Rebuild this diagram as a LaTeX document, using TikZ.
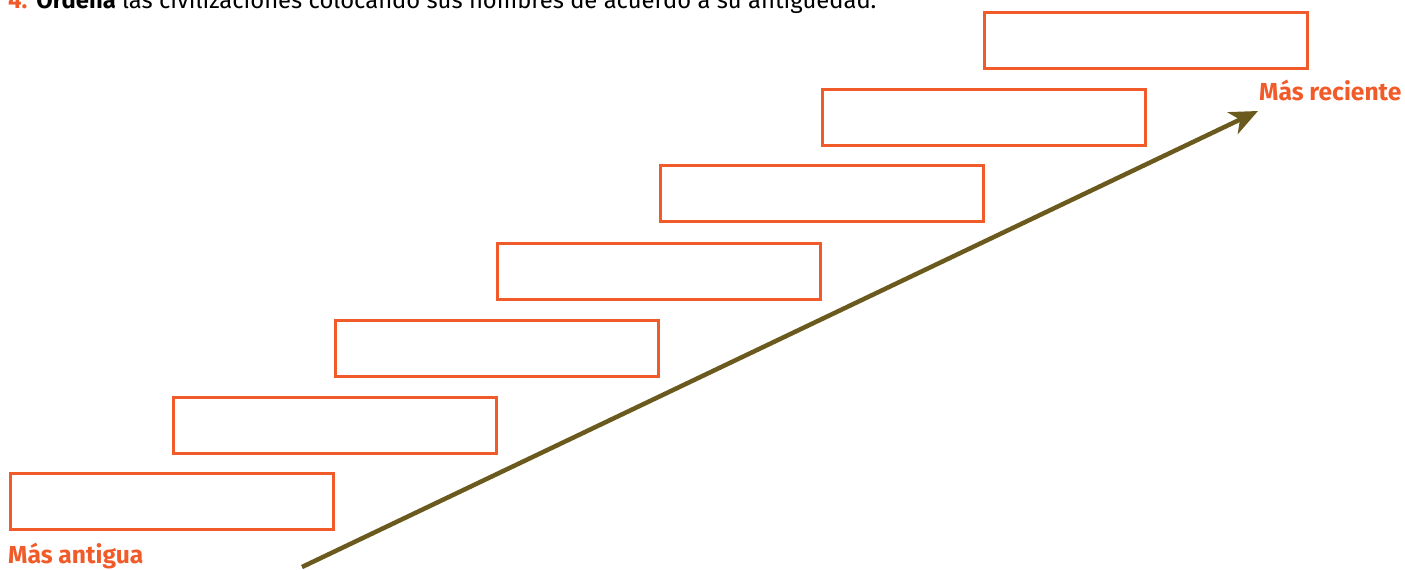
\documentclass[tikz,border=0pt]{standalone}
\usepackage{fontspec}
\setmainfont{Fira Sans}
\usetikzlibrary{arrows.meta}
\definecolor{orng}{HTML}{F15A29}
\definecolor{olive}{HTML}{6B5A1E}
\begin{document}
\begin{tikzpicture}[x=1pt,y=-1pt,
  slot/.style={draw=orng,line width=2.6pt,minimum width=323pt,minimum height=56pt,inner sep=0pt,anchor=north west},
  lbl/.style={text=orng,font=\fontsize{24.6}{26}\selectfont\bfseries,inner sep=0pt,anchor=base west}]
\useasboundingbox (0,0) rectangle (1405,570);
\node[anchor=base west,inner sep=0pt,font=\fontsize{23.8}{26}\selectfont] (title) at (8,8.5)
  {\textcolor{orng}{\textbf{4.}}\hspace{9pt}\textbf{Ordena} las civilizaciones colocando sus nombres de acuerdo a su antigüedad.};
\node[slot] (b1) at (983,11) {};
\node[slot] (b2) at (821,88) {};
\node[slot] (b3) at (659,164) {};
\node[slot] (b4) at (496,242) {};
\node[slot] (b5) at (334,319) {};
\node[slot] (b6) at (172,396) {};
\node[slot] (b7) at (9,472) {};
\node[lbl] (rec) at (1259,100) {Más reciente};
\node[lbl] (ant) at (8,563) {Más antigua};
\coordinate (s) at (302,567);
\coordinate (e) at (1258,111);
\draw[olive,line width=4.5pt,-{Stealth[length=28pt,width=24pt,inset=8pt]}] (s) -- (e);
\end{tikzpicture}
\end{document}
